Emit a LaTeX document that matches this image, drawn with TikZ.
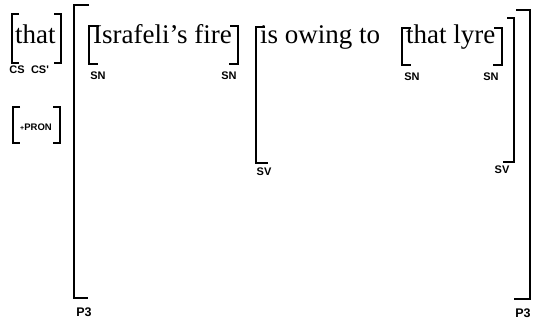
\documentclass[tikz,border=0pt]{standalone}
\usepackage{fontspec}
\setmainfont{Liberation Serif}
\newfontfamily\labfont{Liberation Sans}
\begin{document}
\begin{tikzpicture}[x=1pt,y=-1pt,
  br/.style={line width=1.7pt},
  lbl/.style={font=\labfont\bfseries\fontsize{11}{11}\selectfont, inner sep=0pt},
  biglbl/.style={font=\labfont\bfseries\fontsize{12.5}{12.5}\selectfont, inner sep=0pt},
  smlbl/.style={font=\labfont\bfseries\fontsize{9.5}{9.5}\selectfont, inner sep=0pt},
  wd/.style={font=\fontsize{27}{27}\selectfont, inner sep=0pt, anchor=base west}]
\useasboundingbox (0,0) rectangle (533,320);
% words
\node[wd] (t0) at (15,44) {that};
\node[wd] (t1) at (93,44) {Israfeli's fire};
\node[wd] (t2) at (260,44) {is owing to};
\node[wd] (t3) at (406,44) {that lyre};
% CS bracket
\draw[br] (19,14) -- (12,14) -- (12,63) -- (19,63);
\draw[br] (54,14) -- (61,14) -- (61,63) -- (54,63);
\node[lbl] (cs1) at (17,70) {CS};
\node[lbl] (cs2) at (40,70) {CS'};
% +PRON bracket
\draw[br] (20,107) -- (13,107) -- (13,143) -- (20,143);
\draw[br] (53,107) -- (60,107) -- (60,143) -- (53,143);
\node[smlbl] (pron) at (36,127) {{\fontsize{7}{7}\selectfont+}PRON};
% P3 bracket
\draw[br] (89,5) -- (74,5) -- (74,298) -- (88,298);
\draw[br] (516,10) -- (530,10) -- (530,299) -- (514,299);
\node[biglbl] (p3l) at (84,312) {P3};
\node[biglbl] (p3r) at (523,313) {P3};
% SN 1
\draw[br] (99,26) -- (89,26) -- (89,64) -- (98,64);
\draw[br] (230,26) -- (238,26) -- (238,64) -- (229,64);
\node[lbl] (sn1) at (98,76) {SN};
\node[lbl] (sn2) at (229,76) {SN};
% SV
\draw[br] (265,27) -- (256,27) -- (256,163) -- (268,163);
\draw[br] (507,18) -- (514,18) -- (514,162) -- (503,162);
\node[lbl] (sv1) at (264,172) {SV};
\node[lbl] (sv2) at (502,170) {SV};
% SN 2
\draw[br] (411,28) -- (402,28) -- (402,65) -- (411,65);
\draw[br] (494,28) -- (502,28) -- (502,65) -- (493,65);
\node[lbl] (sn3) at (412,77) {SN};
\node[lbl] (sn4) at (491,77) {SN};
\end{tikzpicture}
\end{document}
